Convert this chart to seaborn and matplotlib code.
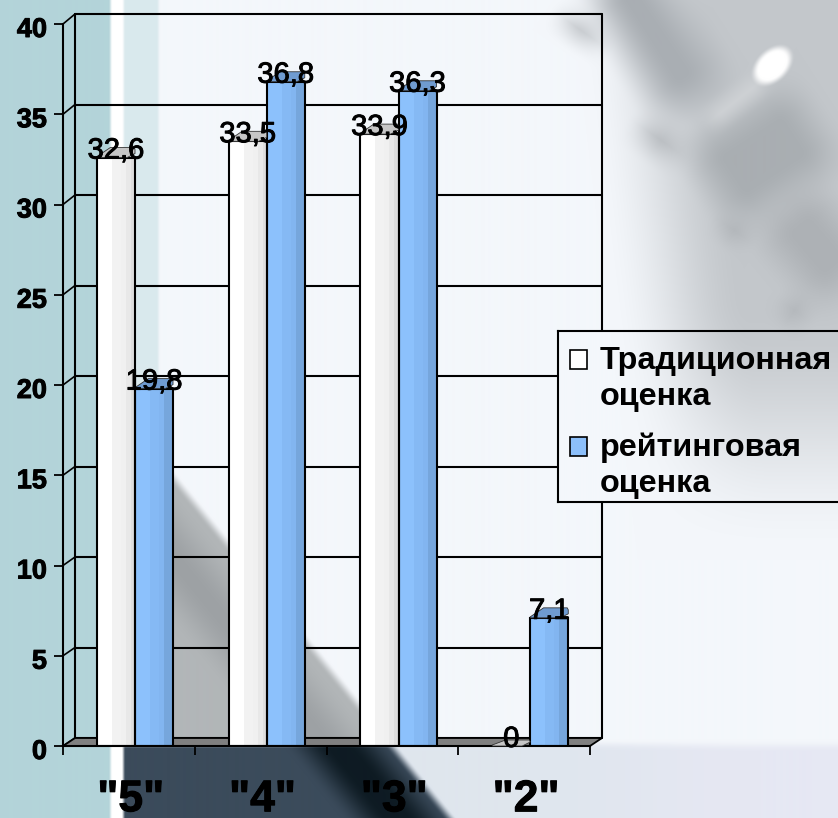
#!/usr/bin/env python3

import matplotlib
matplotlib.use('Agg')
import matplotlib.pyplot as plt
import matplotlib.patheffects as pe
from matplotlib.patches import Patch, Polygon
from matplotlib.transforms import Affine2D, IdentityTransform, ScaledTranslation
import numpy as np
import pandas as pd
import seaborn as sns

W, H = 838, 818

categories = ['"5"', '"4"', '"3"', '"2"']
traditional = [32.6, 33.5, 33.9, 0]
rating = [19.8, 36.8, 36.3, 7.1]
series_names = ['Традиционная\nоценка', 'рейтинговая\nоценка']
y_ticks = [0, 5, 10, 15, 20, 25, 30, 35, 40]

bar_colors = ['#ffffff', '#8cbffa']
top_colors = ['#c6c6c6', '#6f9bd0']
shades = [['#ffffff', '#ffffff', '#ffffff', '#f2f2f2', '#f2f2f2', '#f0f0f0', '#e8e8e8', '#dedede'],
          ['#8cc1fc', '#8cc1fc', '#8cc1fc', '#85b9f4', '#85b9f4', '#82b5f0', '#76a6dc', '#76a6dc']]


def soft(d, w):
    t = np.clip(d / w * 0.5 + 0.5, 0, 1)
    return t * t * (3 - 2 * t)


def blend(img, mask, color):
    c = np.array(matplotlib.colors.to_rgb(color))
    return img * (1 - mask[..., None]) + c * mask[..., None]


def box(X, Y, cx, cy, hw, hh, angle, w):
    a = np.radians(angle)
    u = (X - cx) * np.cos(a) + (Y - cy) * np.sin(a)
    v = -(X - cx) * np.sin(a) + (Y - cy) * np.cos(a)
    return soft(hw - np.abs(u), w) * soft(hh - np.abs(v), w)


def blob(X, Y, cx, cy, rx, ry, angle, w):
    a = np.radians(angle)
    u = (X - cx) * np.cos(a) + (Y - cy) * np.sin(a)
    v = -(X - cx) * np.sin(a) + (Y - cy) * np.cos(a)
    return soft(1 - np.sqrt((u / rx) ** 2 + (v / ry) ** 2), w)


def make_background():
    Y, X = np.mgrid[0:H, 0:W].astype(float)
    img = np.ones((H, W, 3)) * np.array(matplotlib.colors.to_rgb('#f4f7fb'))

    # grey photo area, top right
    img = blend(img, soft(X - 640 - 0.12 * Y, 70) * soft(430 - Y, 130), '#c3c7cb')
    img = blend(img, box(X, Y, 655, 35, 32, 75, -33, 30), '#a9aeb3')
    img = blend(img, box(X, Y, 762, 155, 58, 44, -33, 28), '#a9aeb2')
    img = blend(img, box(X, Y, 815, 245, 34, 48, -40, 28), '#adb1b5')
    img = blend(img, box(X, Y, 735, 100, 32, 7, -38, 14), '#d0d3d6')
    img = blend(img, box(X, Y, 660, 140, 20, 9, 35, 22), '#b4b8bc')
    img = blend(img, box(X, Y, 733, 230, 12, 8, 35, 18), '#b0b4b8')
    img = blend(img, box(X, Y, 793, 310, 10, 12, 35, 18), '#b2b6ba')
    img = blend(img, box(X, Y, 580, 30, 20, 7, 35, 20), '#bcc0c4')
    img = blend(img, blob(X, Y, 771, 65, 21, 14, -45, 0.25), '#ffffff')

    # lower band
    img = blend(img, soft(Y - 745, 6), '#e6e8f3')
    img = blend(img, soft(Y - 745, 6) * soft(640 - X, 120), '#dfe6ee')
    edge = 173 + 0.81 * (Y - 477)
    grey = soft(edge - X, 7) * soft(X - 118, 2)
    img = blend(img, grey * soft(746 - Y, 2), '#b2b6b8')
    img = blend(img, soft(edge - 35 - X, 30) * soft(X - edge + 95, 30) * soft(746 - Y, 2), '#9da1a4')
    low = grey * soft(Y - 746, 2)
    img = blend(img, low, '#3b4b5b')
    img = blend(img, soft(edge - 20 - X, 24) * soft(X - edge + 85, 24) * soft(Y - 746, 2), '#0e1b23')

    # strips on the left
    img = blend(img, soft(158 - X, 2) * soft(X - 122, 2) * soft(470 - Y, 120) * 0.35, '#a9d0d4')
    img = blend(img, soft(123 - X, 2), '#ffffff')
    img = blend(img, soft(110 - X, 2), '#b3d4d9')
    return img


sns.set_style('white')
plt.rcParams['font.family'] = ['Liberation Sans', 'DejaVu Sans']
plt.rcParams['text.color'] = 'black'
plt.rcParams['xtick.color'] = 'black'
plt.rcParams['ytick.color'] = 'black'

background = make_background()
heavy = [pe.withStroke(linewidth=0.7, foreground='black')]

fig = plt.figure(figsize=(W / 100, H / 100), dpi=100)
bg_ax = fig.add_axes([0, 0, 1, 1], zorder=0)
bg_ax.imshow(background, aspect='auto')
bg_ax.axis('off')

ax = fig.add_axes([63 / W, (H - 746) / H, 527 / W, 722 / H], zorder=1)
ax.patch.set_visible(False)

data = pd.DataFrame({
    'category': categories * 2,
    'value': traditional + rating,
    'series': [series_names[0]] * 4 + [series_names[1]] * 4,
})
sns.barplot(data=data, x='category', y='value', hue='series', hue_order=series_names,
            palette=bar_colors, width=0.577, gap=0, saturation=1, legend=False,
            edgecolor='black', linewidth=1.5, ax=ax, zorder=3)

x_left = -72 / 131.75
ax.set_xlim(x_left, x_left + 4)
ax.set_ylim(0, 40)
ax.set_xlabel('')
ax.set_ylabel('')

# walls and floor, drawn behind the bars
y_trans = ax.get_yaxis_transform()
for v in y_ticks:
    dy = 8 + v * 0.05
    ax.plot([0, 1], [v, v], color='black', lw=1.5, zorder=1, clip_on=False,
            transform=y_trans + Affine2D().translate(12, dy))
    x0, y0 = y_trans.transform((0, v))
    ax.plot([x0, x0 + 12], [y0, y0 + dy], color='black', lw=1.2, zorder=1, clip_on=False,
            transform=IdentityTransform())
x0, y0 = y_trans.transform((0, 0))
x1, y1 = y_trans.transform((1, 0))
y2 = y_trans.transform((0, 40))[1]
ax.add_patch(Polygon([(x0, y0), (x0 + 12, y0 + 8), (x1 + 12, y0 + 8), (x1, y0)], closed=True,
                     facecolor='#808080', edgecolor='black', lw=1.3, zorder=1.5,
                     transform=IdentityTransform(), clip_on=False))
for xx in (x0 + 12, x1 + 12):
    ax.plot([xx, xx], [y0 + 8, y2 + 10], color='black', lw=1.5, zorder=1, clip_on=False,
            transform=IdentityTransform())

# cylinder look for the bars
for i, container in enumerate(ax.containers):
    grad = np.array([[matplotlib.colors.to_rgb(c) for c in shades[i]]])
    for bar in container:
        bx, bw, bh = bar.get_x(), bar.get_width(), bar.get_height()
        bar.set_facecolor('none')
        if bh > 0:
            ax.imshow(grad, extent=[bx, bx + bw, 0, bh], aspect='auto', zorder=2,
                      interpolation='nearest')
        px0, py = ax.transData.transform((bx, bh))
        px1 = ax.transData.transform((bx + bw, bh))[0]
        depth = 10 if bh > 0 else 6
        top = [(px0, py + 1), (px0 + 0.35 * (px1 - px0), py + depth), (px1 - 1, py + depth),
               (px1, py + depth - 2), (px1, py + 4), (px1 - 8, py), (px0, py)]
        ax.add_patch(Polygon(top, closed=True, facecolor=top_colors[i], edgecolor='#333333', lw=0.6,
                             zorder=4, transform=IdentityTransform(), clip_on=False))
    labels = [str(v).replace('.', ',') if v else '0' for v in (traditional, rating)[i]]
    texts = ax.bar_label(container, labels=labels, padding=-5, fontsize=21, color='black', zorder=6)
    for t in texts:
        t.set_path_effects(heavy)

ax.set_xlim(x_left, x_left + 4)
ax.set_ylim(0, 40)

ax.set_yticks(y_ticks)
ax.tick_params(axis='y', left=True, length=6.5, width=1.3, color='black', pad=5)
for lab in ax.get_yticklabels():
    lab.set_fontsize(19.5)
    lab.set_fontweight('bold')
    lab.set_path_effects(heavy)
    lab.set_transform(lab.get_transform() + Affine2D().translate(0, -3))

ax.set_xticks(range(4))
ax.set_xticklabels(categories)
ax.set_xticks([x_left + i for i in range(5)], minor=True)
ax.tick_params(axis='x', which='major', bottom=False, length=0, pad=24)
ax.tick_params(axis='x', which='minor', bottom=True, length=6.5, width=1.3, color='black')
for lab in ax.get_xticklabels():
    lab.set_fontsize(32)
    lab.set_fontweight('bold')
    lab.set_path_effects(heavy)
    lab.set_transform(lab.get_transform() + ScaledTranslation(-3 / 72, 0, fig.dpi_scale_trans))

sns.despine(ax=ax)
for side in ('left', 'bottom'):
    ax.spines[side].set_color('black')
    ax.spines[side].set_linewidth(1.5)

# legend box hides the wall lines, so it carries its own piece of the background
leg_ax = fig.add_axes([558 / W, (H - 502) / H, 280 / W, 171 / H], zorder=2)
leg_ax.imshow(background[331:502, 558:838], aspect='auto')
leg_ax.set_xticks([])
leg_ax.set_yticks([])
leg_ax.spines['right'].set_visible(False)
for side in ('left', 'top', 'bottom'):
    leg_ax.spines[side].set_visible(True)
    leg_ax.spines[side].set_color('black')
    leg_ax.spines[side].set_linewidth(1.5)
handles = [Patch(facecolor=c, edgecolor='black', linewidth=1.2, label=n)
           for c, n in zip(bar_colors, series_names)]
leg = leg_ax.legend(handles=handles, loc='upper left', bbox_to_anchor=(-0.012, 1), frameon=False,
                    prop={'family': ['Liberation Sans', 'DejaVu Sans'], 'weight': 'bold', 'size': 23.3},
                    handlelength=0.52, handleheight=0.52, handletextpad=0.4, labelspacing=0.62,
                    borderaxespad=0, borderpad=0.47)
for t in leg.get_texts():
    t.set_linespacing(1.27)
# squares sit next to the first line of each label
for h in leg.legend_handles:
    h.set_y(h.get_y() + 14)

fig.savefig('out.png', dpi=100)
